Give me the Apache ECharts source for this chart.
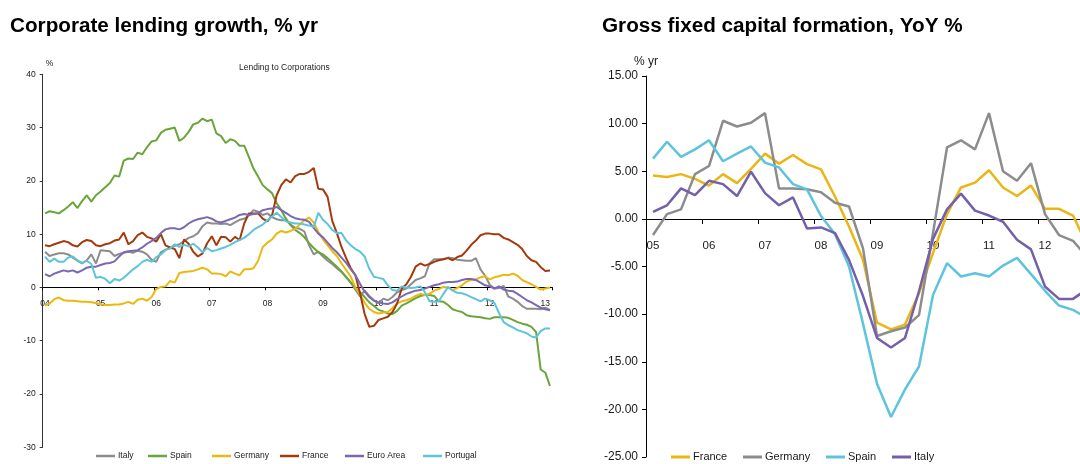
<!DOCTYPE html>
<html><head><meta charset="utf-8">
<script src="https://cdn.jsdelivr.net/npm/echarts@6/dist/echarts.min.js"></script>
<style>html,body{margin:0;padding:0;background:#fff}#c{width:1080px;height:464px}</style>
</head><body><div id="c"></div>
<script>
// ---------- Left panel: Corporate lending growth (monthly, Jan 2004 - Feb 2013) ----------
const lendYears = ['04','05','06','07','08','09','10','11','12','13'];
const lendNames = ['Italy','Spain','Germany','France','Euro Area','Portugal'];
const italyLend = [6.7,5.9,6.2,6.4,6.4,6.2,5.6,5.0,4.5,5.1,
 6.2,4.5,7.0,6.9,6.8,5.9,6.3,6.5,6.7,6.5,
 6.9,6.7,6.2,5.2,4.8,6.6,7.1,7.4,7.8,8.1,
 8.7,9.3,9.6,10.2,11.5,12.2,12.0,12.0,11.9,12.0,
 11.7,12.2,12.7,12.9,13.5,14.5,14.2,13.6,13.9,13.2,
 12.8,12.6,12.6,11.8,11.2,11.0,10.5,7.9,6.2,6.7,
 5.8,5.0,4.4,3.6,2.9,2.0,0.9,-0.4,-1.7,-0.6,
 -1.6,-2.4,-3.0,-2.1,-2.4,-1.8,-0.9,-0.5,-0.2,0.6,
 1.4,1.7,2.1,4.5,5.3,5.3,5.3,5.6,5.5,5.2,
 5.1,5.0,5.0,5.5,3.4,2.2,0.5,-0.2,-0.1,0.3,
 -1.7,-2.1,-2.7,-3.5,-4.0,-4.0,-4.0,-4.1,-3.8,-4.2];
const spainLend = [13.9,14.3,14.1,13.9,14.5,15.2,16.0,14.9,16.2,17.3,
 16.1,17.3,18.0,18.8,19.6,21.0,20.8,23.8,24.2,24.1,
 25.3,25.0,26.3,27.4,27.6,29.0,29.6,29.8,30.0,27.5,
 28.1,29.2,30.6,30.9,31.7,31.2,31.5,28.9,28.4,27.1,
 27.8,27.5,26.6,26.6,24.5,22.3,20.8,19.2,18.4,17.7,
 15.8,14.5,12.9,11.7,10.8,10.2,9.4,8.3,7.4,6.6,
 6.2,5.5,4.7,3.9,3.0,1.9,0.9,-0.1,-0.9,-1.8,
 -2.8,-3.5,-4.2,-4.5,-4.9,-5.0,-4.4,-3.4,-3.0,-2.5,
 -2.0,-1.6,-1.4,-1.4,-1.6,-2.6,-2.7,-3.3,-4.1,-4.4,
 -4.6,-5.2,-5.4,-5.5,-5.6,-5.8,-5.9,-5.6,-5.6,-5.6,
 -5.7,-6.1,-6.5,-6.8,-7.0,-7.4,-8.4,-15.4,-16.0,-18.5];
const germanyLend = [-3.4,-3.0,-2.2,-1.9,-2.4,-2.5,-2.5,-2.6,-2.7,-2.7,
 -2.8,-2.9,-3.2,-3.3,-3.3,-3.2,-3.2,-3.0,-2.7,-3.1,
 -2.3,-2.1,-2.5,-1.8,-0.3,0.1,0.2,1.2,0.9,2.7,
 2.9,3.0,3.1,3.4,3.7,3.4,2.6,2.6,2.5,2.1,
 3.0,2.6,2.3,3.4,3.4,3.6,5.0,7.6,8.4,9.0,
 10.1,10.6,10.3,10.6,11.0,11.8,12.6,13.1,12.2,10.4,
 9.0,7.9,6.8,5.9,4.5,3.3,2.0,0.0,-1.3,-2.9,
 -4.0,-4.6,-4.9,-4.7,-4.6,-3.9,-3.0,-2.6,-2.4,-2.1,
 -1.6,-1.2,-1.4,-1.2,-0.6,-0.3,0.1,0.0,-0.5,-0.1,
 0.4,1.1,1.4,1.5,1.9,2.1,1.5,1.9,2.1,2.4,
 2.3,2.6,2.2,1.4,1.0,0.6,0.1,-0.4,-0.2,0.0];
const franceLend = [7.9,7.75,8.1,8.4,8.7,8.5,7.9,7.7,8.5,8.9,
 8.7,7.9,7.75,8.1,8.3,8.8,9.0,10.3,8.1,8.7,
 9.8,10.3,9.5,9.2,8.6,10.0,7.9,7.5,7.2,5.5,
 9.0,8.2,6.7,5.8,6.4,8.3,9.6,7.9,9.5,9.4,
 8.6,9.5,8.9,12.0,13.9,13.9,13.9,12.9,12.4,13.5,
 17.3,19.2,20.3,19.7,20.9,21.3,21.3,21.7,22.4,18.5,
 18.4,17.0,12.5,10.2,7.6,5.5,3.6,2.3,-1.1,-5.0,
 -7.4,-7.2,-6.1,-5.8,-5.5,-4.6,-3.0,-0.2,0.6,2.0,
 3.9,4.5,4.1,4.4,4.8,5.1,5.3,5.5,5.1,5.7,
 6.0,6.9,8.0,8.8,9.8,10.1,10.1,10.0,10.0,9.3,
 9.0,8.5,8.0,7.2,5.9,5.1,4.8,3.8,3.1,3.2];
const euroLend = [2.5,2.1,2.6,2.9,3.2,3.0,3.2,2.8,3.2,3.7,
 3.9,3.9,4.2,4.5,4.6,4.9,5.8,6.6,6.8,6.9,
 7.0,7.5,8.2,8.7,9.3,10.2,10.9,11.1,11.1,10.9,
 11.3,12.0,12.5,12.8,13.0,13.2,12.9,12.4,12.2,12.5,
 12.8,13.1,13.6,13.8,13.6,13.8,13.9,14.5,14.7,14.8,
 15.1,14.5,14.0,13.4,13.0,12.8,12.7,12.3,11.2,10.1,
 9.4,8.4,7.4,6.6,5.6,4.6,3.4,2.3,0.7,-0.8,
 -1.8,-2.5,-2.8,-3.0,-3.1,-2.8,-2.2,-1.7,-1.2,-0.9,
 -0.6,-0.5,-0.2,0.1,0.4,0.6,0.9,1.0,1.0,1.1,
 1.4,1.6,1.6,1.4,0.9,0.4,0.2,-0.2,0.2,-0.4,
 -0.6,-0.7,-1.2,-1.8,-2.4,-2.8,-3.3,-3.8,-4.1,-4.3];
const portugalLend = [5.8,4.8,5.4,4.8,4.8,5.6,5.8,5.1,4.6,5.0,
 4.4,1.8,2.0,1.6,0.8,1.6,1.3,1.8,2.6,3.4,
 4.0,4.8,5.2,4.8,5.7,6.2,7.0,7.3,8.1,7.6,
 8.0,7.7,8.2,7.5,6.6,7.4,6.8,7.0,7.3,7.6,
 8.0,8.5,8.9,9.3,10.0,10.8,11.3,11.8,12.6,13.3,
 14.0,13.2,12.4,12.2,12.0,12.0,11.8,11.6,11.4,14.0,
 12.7,11.9,10.8,10.2,10.2,8.8,7.9,7.2,6.7,5.8,
 3.5,2.0,1.8,1.6,0.4,-0.5,-0.6,0.2,0.0,-0.1,
 0.0,0.2,-0.9,-2.6,-2.7,-2.6,-1.2,0.1,-0.6,-1.0,
 -1.1,-1.4,-1.8,-2.2,-2.6,-2.1,-2.4,-2.9,-4.8,-6.5,
 -7.1,-7.5,-8.0,-8.3,-8.6,-9.2,-9.4,-8.2,-7.7,-7.7];

// ---------- Right panel: Gross fixed capital formation (quarterly, 2005Q1 - 2012Q4) ----------
const gfcfYears = ['05','06','07','08','09','10','11','12'];
const gfcfNames = ['France','Germany','Spain','Italy'];
const gfcfFrance = [4.55,4.4,4.7,4.2,3.5,4.7,3.75,5.25,6.85,5.8,6.7,5.75,5.2,2.35,-0.8,-4.3,
 -10.9,-11.6,-11.1,-7.8,-3.6,0.5,3.3,3.8,5.1,3.3,2.4,3.5,1.05,1.05,0.35,-2.7];
const gfcfGermany = [-1.7,0.5,1.0,4.7,5.55,10.3,9.7,10.1,11.1,3.2,3.2,3.1,2.8,1.7,1.3,-3.1,
 -12.3,-11.8,-11.4,-10.1,-1.5,7.5,8.25,7.3,11.1,5.0,4.0,5.85,0.5,-1.7,-2.3,-4.0];
const gfcfSpain = [6.33,8.1,6.5,7.3,8.25,6.05,6.85,7.6,5.9,5.4,3.65,3.1,0.3,-1.6,-5.0,-11.0,
 -17.3,-20.8,-17.9,-15.5,-8.0,-4.65,-6.05,-5.7,-6.05,-4.9,-4.1,-5.8,-7.55,-9.1,-9.55,-10.4];
const gfcfItaly = [0.73,1.43,3.2,2.5,4.0,3.65,2.4,4.95,2.7,1.43,2.25,-1.0,-0.9,-1.5,-4.3,-8.1,
 -12.5,-13.5,-12.5,-7.6,-2.1,1.0,2.65,0.87,0.35,-0.3,-2.2,-3.2,-7.1,-8.4,-8.4,-7.4];

// ---------- build ----------
const FONT = 'Liberation Sans, Arial, Helvetica, sans-serif';
const TXT = '#1a1a1a';
const lendCats = [];
lendYears.forEach(y => { for (let m = 1; m <= 12; m++) lendCats.push(y + '-' + String(m).padStart(2, '0')); });
lendCats.length = italyLend.length;
const gfcfCats = [];
gfcfYears.forEach(y => { for (let q = 1; q <= 4; q++) gfcfCats.push(y + '-Q' + q); });

const lendColors = ['#8c8c8c', '#6ba43a', '#ebb90e', '#a43a0c', '#7b68b0', '#5ec4dc'];
const lendData = [italyLend, spainLend, germanyLend, franceLend, euroLend, portugalLend];
const gfcfColors = ['#ebb514', '#8c8c8c', '#5ec4dc', '#7460a8'];
const gfcfData = [gfcfFrance, gfcfGermany, gfcfSpain, gfcfItaly];
const SUF = ' (GFCF)';

const series = [];
lendNames.forEach((n, i) => series.push({
  name: n, type: 'line', xAxisIndex: 0, yAxisIndex: 0, data: lendData[i],
  symbol: 'none', lineStyle: { width: 2, color: lendColors[i] }, itemStyle: { color: lendColors[i] }
}));
gfcfNames.forEach((n, i) => series.push({
  name: n + SUF, type: 'line', xAxisIndex: 1, yAxisIndex: 1, data: gfcfData[i],
  symbol: 'none', lineStyle: { width: 2.5, color: gfcfColors[i] }, itemStyle: { color: gfcfColors[i] }
}));

const lendLegendX = [96, 148, 212, 280, 345, 423];
const gfcfLegendX = [671, 743, 826, 892];
const legends = [];
lendNames.forEach((n, i) => legends.push({
  data: [n], left: lendLegendX[i], top: 451.5, padding: 0, itemWidth: 19, itemHeight: 2.5, icon: 'rect',
  selectedMode: false, textStyle: { fontSize: 8.5, color: TXT, fontFamily: FONT, padding: [0, 0, 0, -2] }
}));
gfcfNames.forEach((n, i) => legends.push({
  data: [n + SUF], left: gfcfLegendX[i], top: 451.5, padding: 0, itemWidth: 19, itemHeight: 3, icon: 'rect',
  selectedMode: false, formatter: s => s.replace(SUF, ''),
  textStyle: { fontSize: 11, color: TXT, fontFamily: FONT, padding: [0, 0, 0, -2] }
}));

const option = {
  animation: false,
  backgroundColor: '#fff',
  textStyle: { fontFamily: FONT },
  title: [
    { text: 'Corporate lending growth, % yr', left: 10, top: 16, padding: 0,
      textStyle: { fontSize: 20.7, fontWeight: 'bold', color: '#000', fontFamily: FONT } },
    { text: 'Gross fixed capital formation, YoY %', left: 602, top: 16, padding: 0,
      textStyle: { fontSize: 20.7, fontWeight: 'bold', color: '#000', fontFamily: FONT } },
    { text: 'Lending to Corporations', left: 239, top: 63, padding: 0,
      textStyle: { fontSize: 8.5, fontWeight: 'normal', color: TXT, fontFamily: FONT } }
  ],
  legend: legends,
  grid: [
    { left: 42.7, top: 74.3, width: 509.6, height: 373, containLabel: false, outerBoundsMode: 'none' },
    { left: 646, top: 76, width: 448, height: 381, containLabel: false, outerBoundsMode: 'none' }
  ],
  xAxis: [
    { type: 'category', gridIndex: 0, data: lendCats, boundaryGap: true, position: 'bottom', offset: -160,
      axisLine: { show: true, onZero: false, lineStyle: { color: '#000', width: 1 } },
      axisTick: { show: true, interval: i => i % 12 === 0, length: 3, lineStyle: { color: '#000' } },
      axisLabel: { interval: i => i % 12 === 0, formatter: v => v.slice(0, 2), fontSize: 8.5, color: TXT, margin: 12, fontFamily: FONT },
      splitLine: { show: false } },
    { type: 'category', gridIndex: 1, data: gfcfCats, boundaryGap: true, position: 'bottom', offset: -238,
      axisLine: { show: true, onZero: false, lineStyle: { color: '#000', width: 1 } },
      axisTick: { show: true, interval: i => i % 4 === 0, length: 5, lineStyle: { color: '#000' } },
      axisLabel: { interval: i => i % 4 === 0, formatter: v => v.slice(0, 2), fontSize: 11.5, color: TXT, margin: 21, fontFamily: FONT },
      splitLine: { show: false } }
  ],
  yAxis: [
    { type: 'value', gridIndex: 0, min: -30, max: 40, interval: 10,
      name: '%', nameLocation: 'end', nameGap: 6,
      nameTextStyle: { fontSize: 8.5, color: TXT, align: 'left', padding: [0, 0, 0, 3], fontFamily: FONT },
      axisLine: { show: true, onZero: false, lineStyle: { color: '#333', width: 1 } },
      axisTick: { show: true, length: 3, lineStyle: { color: '#333' } },
      axisLabel: { fontSize: 8.5, color: TXT, margin: 7, fontFamily: FONT },
      splitLine: { show: false } },
    { type: 'value', gridIndex: 1, min: -25, max: 15, interval: 5,
      name: '% yr', nameLocation: 'end', nameGap: 8,
      nameTextStyle: { fontSize: 12, color: TXT, fontFamily: FONT },
      axisLine: { show: true, onZero: false, lineStyle: { color: '#000', width: 1 } },
      axisTick: { show: true, length: 4, lineStyle: { color: '#000' } },
      axisLabel: { fontSize: 12, color: TXT, margin: 8, formatter: v => v.toFixed(2), fontFamily: FONT },
      splitLine: { show: false } }
  ],
  series: series
};
const chart = echarts.init(document.getElementById('c'), null, { renderer: 'canvas', width: 1080, height: 464 });
chart.setOption(option);
</script>
</body></html>
